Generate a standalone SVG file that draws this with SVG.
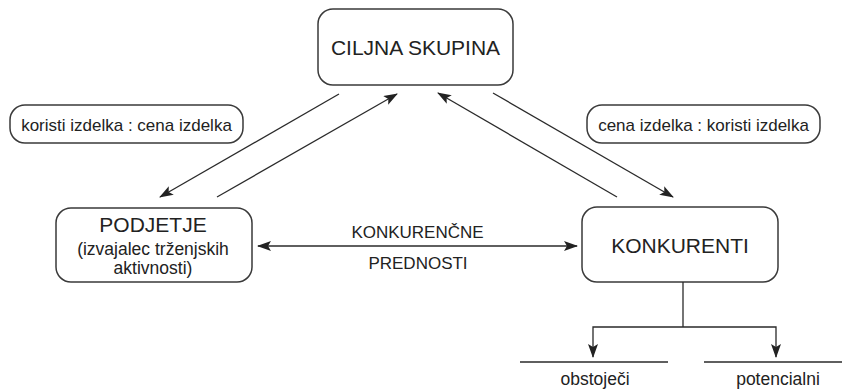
<svg xmlns="http://www.w3.org/2000/svg" width="842" height="390" viewBox="0 0 842 390">
  <style>
    .box { fill: #ffffff; stroke: #3a3a3a; stroke-width: 1.5; }
    .t { font-family: "Liberation Sans", Arial, sans-serif; fill: #222222; text-anchor: middle; }
    .big { font-size: 21px; }
    .mid { font-size: 17.5px; }
    .lbl { font-size: 17px; }
    .ln { fill: none; stroke: #2a2a2a; stroke-width: 1.3; }
  </style>
  <defs>
    <marker id="ah" viewBox="0 0 14 10" refX="13" refY="5" markerWidth="14" markerHeight="10" markerUnits="userSpaceOnUse" orient="auto-start-reverse">
      <path d="M0,0 L14,5 L0,10 L3,5 Z" fill="#222222"/>
    </marker>
  </defs>

  <rect width="842" height="390" fill="#ffffff"/>

  <g id="ciljna-skupina">
    <rect class="box" x="318" y="9" width="195" height="76" rx="15"/>
    <text class="t big" x="415.5" y="55">CILJNA SKUPINA</text>
  </g>

  <g id="label-left">
    <rect class="box" x="10" y="105" width="233" height="38" rx="15"/>
    <text class="t lbl" x="126.5" y="131">koristi izdelka : cena izdelka</text>
  </g>

  <g id="label-right">
    <rect class="box" x="587" y="105" width="233" height="38" rx="15"/>
    <text class="t lbl" x="703.5" y="131">cena izdelka : koristi izdelka</text>
  </g>

  <g id="podjetje">
    <rect class="box" x="56" y="208" width="196" height="74" rx="15"/>
    <text class="t big" x="153" y="232">PODJETJE</text>
    <text class="t mid" x="153" y="255">(izvajalec trženjskih</text>
    <text class="t mid" x="153" y="274">aktivnosti)</text>
  </g>

  <g id="konkurenti">
    <rect class="box" x="582" y="207" width="196" height="75" rx="15"/>
    <text class="t big" x="680" y="253">KONKURENTI</text>
  </g>

  <g id="obstojeci">
    <line class="ln" x1="520" y1="362" x2="668" y2="362"/>
    <text class="t mid" x="595" y="385">obstoječi</text>
  </g>

  <g id="potencialni">
    <line class="ln" x1="704" y1="362" x2="842" y2="362"/>
    <text class="t mid" x="778" y="385">potencialni</text>
  </g>

  <g id="konkurencne-prednosti">
    <text class="t lbl" x="417.5" y="238">KONKURENČNE</text>
    <text class="t lbl" x="418" y="269">PREDNOSTI</text>
  </g>

  <g id="connectors">
    <line class="ln" x1="339" y1="94" x2="160" y2="197" marker-end="url(#ah)"/>
    <line class="ln" x1="217" y1="197" x2="397" y2="94" marker-end="url(#ah)"/>
    <line class="ln" x1="493" y1="93" x2="673" y2="197" marker-end="url(#ah)"/>
    <line class="ln" x1="617" y1="197" x2="438" y2="93" marker-end="url(#ah)"/>
    <line class="ln" x1="258" y1="246" x2="577" y2="246" marker-start="url(#ah)" marker-end="url(#ah)"/>
    <polyline class="ln" points="683,282 683,327"/>
    <polyline class="ln" points="593,357 593,327 776,327 776,357" marker-start="url(#ah)" marker-end="url(#ah)"/>
  </g>
</svg>
